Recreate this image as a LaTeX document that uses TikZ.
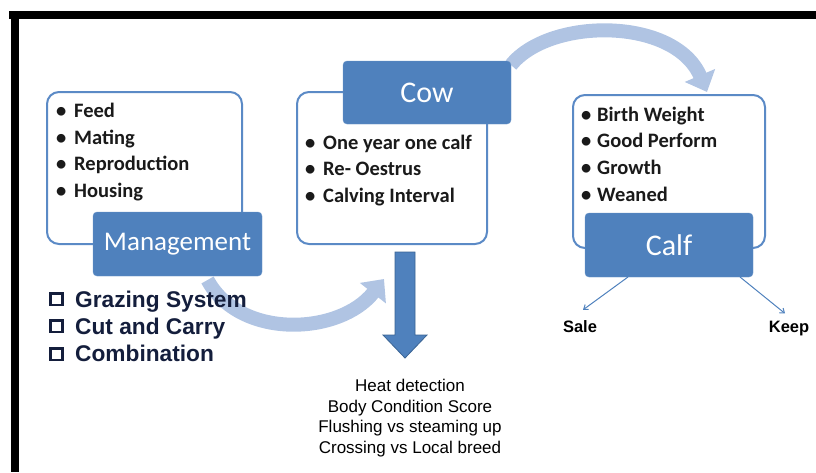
\documentclass[tikz,border=0pt]{standalone}
\usepackage{fontspec}
\setmainfont{Carlito}
\newfontfamily\arialf{Liberation Sans}
\usetikzlibrary{arrows.meta}
\definecolor{accent}{HTML}{4F81BD}
\definecolor{boxline}{HTML}{5B8AC6}
\definecolor{lightarc}{HTML}{B0C4E3}
\definecolor{navy}{HTML}{141E3C}
\definecolor{arrowedge}{HTML}{3A6494}
\definecolor{bodytext}{HTML}{1A1A1A}
\newcommand\mybul[1]{\makebox[#1][l]{•}}
\begin{document}
\begin{tikzpicture}[x=1pt,y=-1pt,
  panel/.style={draw=boxline, line width=2pt, fill=white, rounded corners=12pt, inner sep=0pt, outer sep=0pt},
  headbox/.style={fill=accent, draw=accent!85!white, rounded corners=4pt, text=white, inner sep=0pt, outer sep=0pt},
  bullets/.style={anchor=base west, align=left, inner sep=0pt, text=bodytext, font=\bfseries\fontsize{20.5}{26.7}\selectfont},
  arcarrow/.style={draw=lightarc, line width=14pt, -{Triangle[width=32pt,length=18pt]}},
  thinarrow/.style={draw=accent, line width=1pt, -{Straight Barb[length=4pt,width=6pt]}},
  lbl/.style={font=\arialf\bfseries\fontsize{16.5}{18}\selectfont, anchor=base, inner sep=2pt},
  chk/.style={font=\arialf\bfseries\fontsize{22.7}{24}\selectfont, text=navy, anchor=base west, inner sep=0pt},
  chkbox/.style={draw=navy, line width=2.6pt}
]
\useasboundingbox (0,0) rectangle (816,472);
% frame
\fill[black] (9,11) rectangle (816,19);
\fill[black] (11,11) rectangle (19,472);

% placeholders for box geometry
\path (144.5,168) node[minimum width=195pt, minimum height=152pt, inner sep=0pt, outer sep=0pt] (mgmtpanel) {};
\path (177.5,244) node[minimum width=169pt, minimum height=64pt, inner sep=0pt, outer sep=0pt] (mgmthead) {};
\path (392,168) node[minimum width=190pt, minimum height=152pt, inner sep=0pt, outer sep=0pt] (cowpanel) {};
\path (427,92.5) node[minimum width=168pt, minimum height=63pt, inner sep=0pt, outer sep=0pt] (cowhead) {};
\path (669,171.5) node[minimum width=192pt, minimum height=153pt, inner sep=0pt, outer sep=0pt] (calfpanel) {};
\path (669,245) node[minimum width=168pt, minimum height=64pt, inner sep=0pt, outer sep=0pt] (calfhead) {};

% curved arrows (behind boxes)
\coordinate (topend) at ([xshift=38pt,yshift=3pt]calfpanel.north);
\draw[arcarrow] ([yshift=-4pt]cowhead.north east) .. controls (550,17) and (675,17) .. (topend);
\coordinate (botend) at ([xshift=-8pt,yshift=-35pt]cowpanel.south);
\draw[arcarrow] ([xshift=30pt,yshift=-4pt]mgmthead.south) .. controls (240,340) and (340,335) .. (botend);

% panels
\node[panel, minimum width=195pt, minimum height=152pt] at (mgmtpanel) {};
\node[panel, minimum width=190pt, minimum height=152pt] at (cowpanel) {};
\node[panel, minimum width=192pt, minimum height=153pt] at (calfpanel) {};

% head boxes
\node[headbox, minimum width=169pt, minimum height=64pt, font=\fontsize{27}{30}\selectfont] at (mgmthead) {Management};
\node[headbox, minimum width=168pt, minimum height=63pt, font=\fontsize{30}{32}\selectfont] at (cowhead) {Cow};
\node[headbox, minimum width=168pt, minimum height=64pt, font=\fontsize{30}{32}\selectfont] at (calfhead) {Calf};

% bullet lists (base anchor = baseline of last line)
\node[bullets] (mgmtlist) at (56,197.6) {\mybul{18pt}Feed\\\mybul{18pt}Mating\\\mybul{18pt}Reproduction\\\mybul{18pt}Housing};
\node[bullets] (cowlist) at (305,202.4) {\mybul{18pt}One year one calf\\\mybul{18pt}Re- Oestrus\\\mybul{18pt}Calving Interval};
\node[bullets] (calflist) at (581,201.1) {\mybul{16pt}Birth Weight\\\mybul{16pt}Good Perform\\\mybul{16pt}Growth\\\mybul{16pt}Weaned};

% block arrow down
\draw[fill=accent, draw=arrowedge, line width=0.8pt, line join=miter]
  (395,252) -- (415,252) -- (415,335) -- (427,335) -- (405,358) -- (383,335) -- (395,335) -- cycle;

% bottom text
\node[font=\arialf\fontsize{17}{20.7}\selectfont, align=center, inner sep=0pt] (factors) at (410,418)
  {Heat detection\\Body Condition Score\\Flushing vs steaming up\\Crossing vs Local breed};

% checkbox list
\draw[chkbox] (50.5,293.5) rectangle (62.5,305);
\draw[chkbox] (50.5,320.5) rectangle (62.5,332);
\draw[chkbox] (50.5,348.5) rectangle (62.5,360);
\node[chk] (graz) at (75,307) {Grazing System};
\node[chk] (cut) at (75,334) {Cut and Carry};
\node[chk] (comb) at (75,361.5) {Combination};

% sale / keep
\node[lbl] (sale) at (580,332) {Sale};
\node[lbl] (keep) at (789,332) {Keep};
\draw[thinarrow] ([xshift=-41pt]calfhead.south) -- ([xshift=3pt,yshift=8pt]sale.north);
\draw[thinarrow] ([xshift=71pt]calfhead.south) -- ([xshift=-4pt,yshift=5pt]keep.north);
\end{tikzpicture}
\end{document}
